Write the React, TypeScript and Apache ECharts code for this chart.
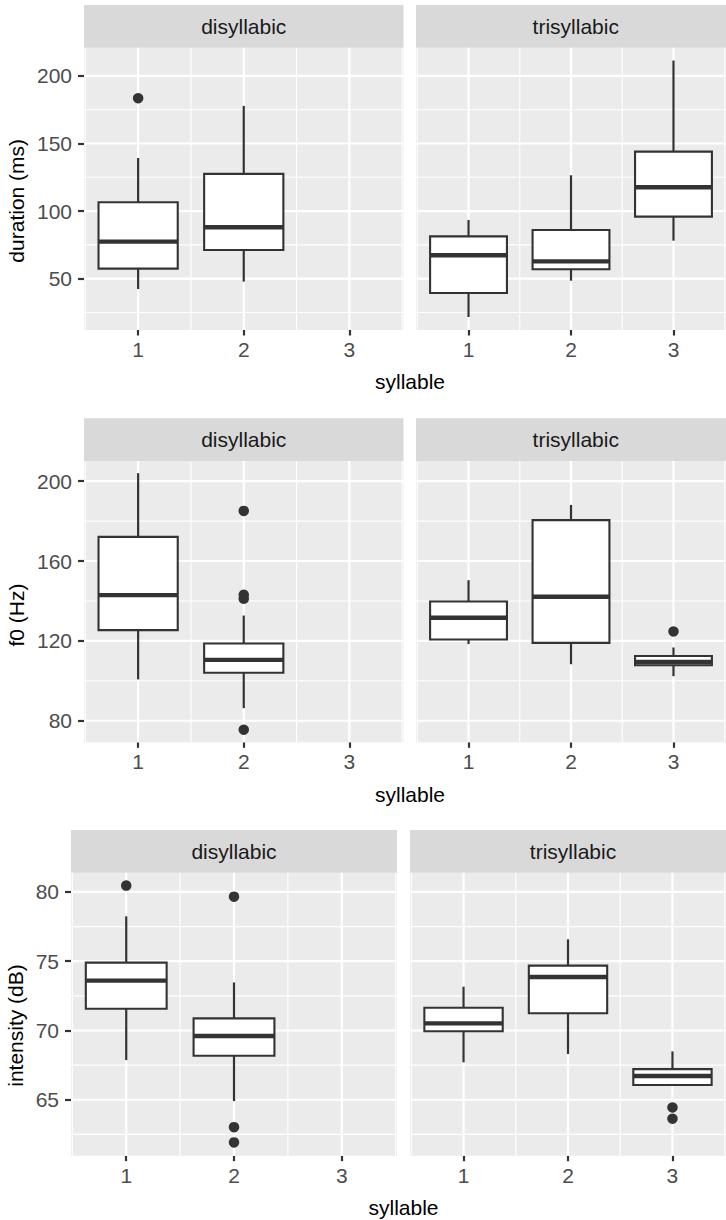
import { useEffect, useRef } from "react";
import * as echarts from "echarts";

// Facet labels and the shared x scale (syllable position)
const facets = ["disyllabic", "trisyllabic"];
const syllableTicks = [1, 2, 3];
const syllableMinor = [0.5, 1.5, 2.5, 3.5];
const syllableMin = 0.4875;
const syllableMax = 3.5125;
const boxWidth = 0.75;

// y breaks per measure
const durationTicks = [50, 100, 150, 200];
const durationMinor = [25, 75, 125, 175];
const f0Ticks = [80, 120, 160, 200];
const f0Minor = [100, 140, 180];
const intensityTicks = [65, 70, 75, 80];
const intensityMinor = [62.5, 67.5, 72.5, 77.5];

// Box statistics: [syllable, lower whisker, Q1, median, Q3, upper whisker]
const durationDisyllabic = [
  [1, 42.3, 57.4, 77.4, 106.5, 139.3],
  [2, 47.8, 71.2, 88.0, 127.5, 177.8],
];
const durationTrisyllabic = [
  [1, 21.6, 39.4, 67.3, 81.3, 93.4],
  [2, 48.5, 56.9, 62.8, 86.0, 126.5],
  [3, 78.1, 95.9, 117.6, 144.0, 211.4],
];
const durationDisyllabicOutliers = [[1, 183.5]];
const durationTrisyllabicOutliers: number[][] = [];

const f0Disyllabic = [
  [1, 100.7, 125.4, 142.9, 172.1, 204.0],
  [2, 86.3, 104.0, 110.5, 118.7, 132.7],
];
const f0Trisyllabic = [
  [1, 118.4, 120.7, 131.6, 139.7, 150.4],
  [2, 108.3, 119.0, 142.1, 180.5, 188.1],
  [3, 102.3, 107.8, 109.4, 112.4, 116.7],
];
const f0DisyllabicOutliers = [
  [2, 185.1],
  [2, 143.1],
  [2, 141.1],
  [2, 75.5],
];
const f0TrisyllabicOutliers = [[3, 124.7]];

const intensityDisyllabic = [
  [1, 67.86, 71.57, 73.6, 74.9, 78.24],
  [2, 64.9, 68.18, 69.6, 70.87, 73.47],
];
const intensityTrisyllabic = [
  [1, 67.7, 69.94, 70.51, 71.64, 73.16],
  [2, 68.3, 71.24, 73.86, 74.68, 76.58],
  [3, 66.06, 66.06, 66.71, 67.21, 68.49],
];
const intensityDisyllabicOutliers = [
  [1, 80.46],
  [2, 79.66],
  [2, 63.02],
  [2, 61.92],
];
const intensityTrisyllabicOutliers = [
  [3, 64.44],
  [3, 63.63],
];

const FONT = "'Liberation Sans', Arial, Helvetica, sans-serif";
const FS = 21;
const INK = "#333333";

type Row = {
  title: string;
  yMin: number;
  yMax: number;
  ticks: number[];
  minor: number[];
  boxes: number[][][];
  outliers: number[][][];
  stripTop: number;
  top: number;
  height: number;
  lefts: number[];
  width: number;
  yTitle: [number, number];
  xTitle: [number, number];
};

const rows: Row[] = [
  {
    title: "duration (ms)",
    yMin: 12.0,
    yMax: 220.9,
    ticks: durationTicks,
    minor: durationMinor,
    boxes: [durationDisyllabic, durationTrisyllabic],
    outliers: [durationDisyllabicOutliers, durationTrisyllabicOutliers],
    stripTop: 5,
    top: 47.7,
    height: 282.3,
    lefts: [84, 416],
    width: 319.5,
    yTitle: [16.7, 200.8],
    xTitle: [410, 381.7],
  },
  {
    title: "f0 (Hz)",
    yMin: 69.2,
    yMax: 210.1,
    ticks: f0Ticks,
    minor: f0Minor,
    boxes: [f0Disyllabic, f0Trisyllabic],
    outliers: [f0DisyllabicOutliers, f0TrisyllabicOutliers],
    stripTop: 418.3,
    top: 461,
    height: 281.3,
    lefts: [84, 416],
    width: 319.5,
    yTitle: [16.7, 615],
    xTitle: [410, 794],
  },
  {
    title: "intensity (dB)",
    yMin: 60.96,
    yMax: 81.39,
    ticks: intensityTicks,
    minor: intensityMinor,
    boxes: [intensityDisyllabic, intensityTrisyllabic],
    outliers: [intensityDisyllabicOutliers, intensityTrisyllabicOutliers],
    stripTop: 830,
    top: 872.7,
    height: 283,
    lefts: [71, 410],
    width: 326,
    yTitle: [15.7, 1025.5],
    xTitle: [403.5, 1207],
  },
];

// Panel grid lines: [orientation (0 vertical, 1 horizontal), value, major?]
function renderGridLine(params: any, api: any) {
  const cs = params.coordSys;
  const orient = api.value(0);
  const v = api.value(1);
  const major = api.value(2) === 1;
  const lw = major ? 2.2 : 1.1;
  if (orient === 0) {
    const px = api.coord([v, 0])[0];
    return {
      type: "line",
      shape: { x1: px, y1: cs.y, x2: px, y2: cs.y + cs.height },
      style: { stroke: "#ffffff", lineWidth: lw },
    };
  }
  const py = api.coord([1, v])[1];
  return {
    type: "line",
    shape: { x1: cs.x, y1: py, x2: cs.x + cs.width, y2: py },
    style: { stroke: "#ffffff", lineWidth: lw },
  };
}

function renderBox(_params: any, api: any) {
  const x = api.value(0);
  const lo = api.coord([x, api.value(1)]);
  const q1 = api.coord([x, api.value(2)]);
  const med = api.coord([x, api.value(3)]);
  const q3 = api.coord([x, api.value(4)]);
  const hi = api.coord([x, api.value(5)]);
  const half = api.size([boxWidth, 0])[0] / 2;
  const cx = lo[0];
  const stroke = { stroke: INK, lineWidth: 2.2 };
  return {
    type: "group",
    children: [
      { type: "line", shape: { x1: cx, y1: hi[1], x2: cx, y2: q3[1] }, style: stroke },
      { type: "line", shape: { x1: cx, y1: q1[1], x2: cx, y2: lo[1] }, style: stroke },
      {
        type: "rect",
        shape: { x: cx - half, y: q3[1], width: 2 * half, height: q1[1] - q3[1] },
        style: { fill: "#ffffff", stroke: INK, lineWidth: 2.1 },
      },
      {
        type: "line",
        shape: { x1: cx - half, y1: med[1], x2: cx + half, y2: med[1] },
        style: { stroke: INK, lineWidth: 4.4 },
      },
    ],
  };
}

function buildOption() {
  const grid: any[] = [];
  const xAxis: any[] = [];
  const yAxis: any[] = [];
  const series: any[] = [];
  const graphic: any[] = [];

  rows.forEach((row, r) => {
    row.lefts.forEach((left, p) => {
      const idx = r * 2 + p;
      grid.push({
        left,
        top: row.top,
        width: row.width,
        height: row.height,
        show: true,
        backgroundColor: "#EBEBEB",
        borderWidth: 0,
        containLabel: false,
      });
      xAxis.push({
        type: "value",
        gridIndex: idx,
        min: syllableMin,
        max: syllableMax,
        axisLine: { show: false },
        splitLine: { show: false },
        axisTick: {
          show: true,
          customValues: syllableTicks,
          length: 5.5,
          lineStyle: { color: INK, width: 2.2 },
        },
        axisLabel: {
          show: true,
          customValues: syllableTicks,
          margin: 9,
          color: "#4D4D4D",
          fontSize: FS,
          fontFamily: FONT,
          formatter: (v: number) => (syllableTicks.includes(v) ? String(v) : ""),
        },
      });
      yAxis.push({
        type: "value",
        gridIndex: idx,
        min: row.yMin,
        max: row.yMax,
        axisLine: { show: false },
        splitLine: { show: false },
        axisTick: {
          show: p === 0,
          customValues: row.ticks,
          length: 6,
          lineStyle: { color: INK, width: 2.2 },
        },
        axisLabel: {
          show: p === 0,
          customValues: row.ticks,
          margin: 12,
          color: "#4D4D4D",
          fontSize: FS,
          fontFamily: FONT,
          formatter: (v: number) => (row.ticks.includes(v) ? String(v) : ""),
        },
      });

      const lines = [
        ...syllableTicks.map((v) => [0, v, 1]),
        ...syllableMinor.map((v) => [0, v, 0]),
        ...row.ticks.map((v) => [1, v, 1]),
        ...row.minor.filter((v) => v > row.yMin && v < row.yMax).map((v) => [1, v, 0]),
      ];
      series.push({
        type: "custom",
        coordinateSystem: "cartesian2d",
        xAxisIndex: idx,
        yAxisIndex: idx,
        silent: true,
        z: 1,
        renderItem: renderGridLine,
        data: lines,
      });
      series.push({
        type: "custom",
        name: `${row.title} ${facets[p]}`,
        coordinateSystem: "cartesian2d",
        xAxisIndex: idx,
        yAxisIndex: idx,
        silent: true,
        z: 3,
        renderItem: renderBox,
        encode: { x: 0, y: [1, 2, 3, 4, 5] },
        data: row.boxes[p],
      });
      series.push({
        type: "scatter",
        xAxisIndex: idx,
        yAxisIndex: idx,
        silent: true,
        z: 4,
        symbol: "circle",
        symbolSize: 10.5,
        itemStyle: { color: INK, opacity: 1 },
        data: row.outliers[p],
      });

      // facet strip
      graphic.push({
        type: "rect",
        shape: { x: left, y: row.stripTop, width: row.width, height: row.top - row.stripTop },
        style: { fill: "#D9D9D9" },
        silent: true,
      });
      graphic.push({
        type: "text",
        x: left + row.width / 2,
        y: (row.stripTop + row.top) / 2,
        style: {
          text: facets[p],
          fill: "#1A1A1A",
          font: `${FS}px ${FONT}`,
          textAlign: "center",
          textVerticalAlign: "middle",
        },
        silent: true,
      });
    });

    graphic.push({
      type: "text",
      x: row.yTitle[0],
      y: row.yTitle[1],
      rotation: Math.PI / 2,
      style: {
        text: row.title,
        fill: "#000000",
        font: `${FS}px ${FONT}`,
        textAlign: "center",
        textVerticalAlign: "middle",
      },
      silent: true,
    });
    graphic.push({
      type: "text",
      x: row.xTitle[0],
      y: row.xTitle[1],
      style: {
        text: "syllable",
        fill: "#000000",
        font: `${FS}px ${FONT}`,
        textAlign: "center",
        textVerticalAlign: "middle",
      },
      silent: true,
    });
  });

  return {
    animation: false,
    backgroundColor: "#ffffff",
    textStyle: { fontFamily: FONT },
    grid,
    xAxis,
    yAxis,
    series,
    graphic: { elements: graphic },
  };
}

export default function App() {
  const ref = useRef<HTMLDivElement>(null);

  useEffect(() => {
    if (!ref.current) return;
    const chart = echarts.init(ref.current, null, { renderer: "svg" });
    chart.setOption(buildOption() as any);
    return () => chart.dispose();
  }, []);

  return (
    <div
      ref={ref}
      style={{ position: "absolute", left: 0, top: 0, width: 726, height: 1220, overflow: "hidden" }}
    />
  );
}
